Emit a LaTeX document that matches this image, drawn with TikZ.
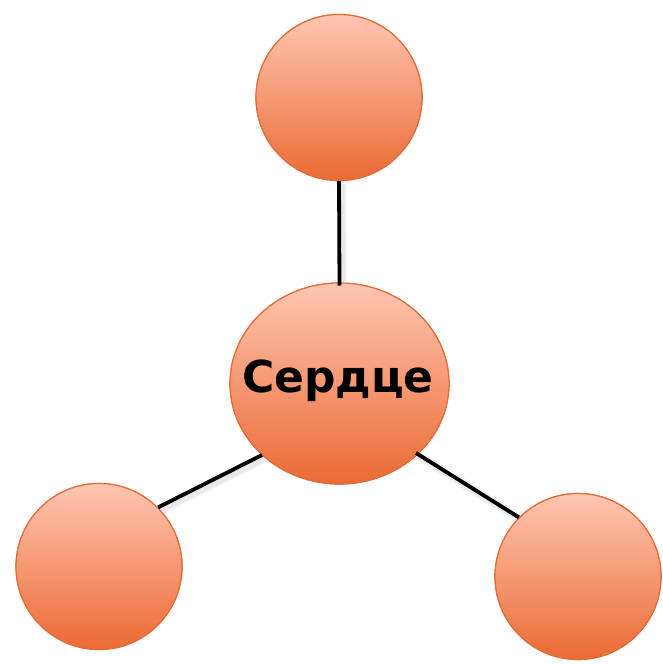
\documentclass[tikz,border=0pt]{standalone}
\usepackage{fontspec}
\setmainfont{DejaVu Sans}
\usetikzlibrary{shapes.geometric,calc}
\definecolor{topc}{HTML}{FFC6B2}
\definecolor{botc}{HTML}{EB6A34}
\definecolor{edgec}{HTML}{E46B35}
\tikzset{
  ball/.style={circle, draw=edgec, line width=1.2pt, top color=topc, bottom color=botc, minimum size=166pt, inner sep=0pt},
  hub/.style={ellipse, draw=edgec, line width=1.2pt, top color=topc, bottom color=botc, minimum width=219pt, minimum height=201pt, inner sep=0pt},
  hubtext/.style={font=\bfseries\fontsize{44}{50}\selectfont, inner sep=0pt},
  link/.style={line width=3.8pt, black},
  linkshadowA/.style={line width=9pt, black!5},
  linkshadowB/.style={line width=5pt, black!9}
}
\begin{document}
\begin{tikzpicture}[x=1pt,y=-1pt]
\useasboundingbox (0,0) rectangle (663,664);
\node[ball] (t) at (339,97.5) {};
\node[ball] (l) at (99,566.5) {};
\node[ball] (r) at (578,576.5) {};
\node[hub] (c) at (339.5,383.5) {};
\coordinate (cl) at ($(c)+(-77.5,71.5)$);
\coordinate (cr) at ($(c)+(76.5,69.5)$);
\coordinate (ctop) at ($(c)+(0,-98)$);
\begin{scope}[transform canvas={xshift=3pt,yshift=-3pt}]
\draw[linkshadowA] (ctop) -- (t.south) (cl) -- (l.45) (cr) -- (r.135);
\draw[linkshadowB] (ctop) -- (t.south) (cl) -- (l.45) (cr) -- (r.135);
\end{scope}
\node[ball] at (t) {};
\node[ball] at (l) {};
\node[ball] at (r) {};
\node[hub] at (c) {};
\draw[link] (ctop) -- (t.south) (cl) -- (l.45) (cr) -- (r.135);
\node[hubtext] (ct) at (338,381) {Сердце};
\end{tikzpicture}
\end{document}
